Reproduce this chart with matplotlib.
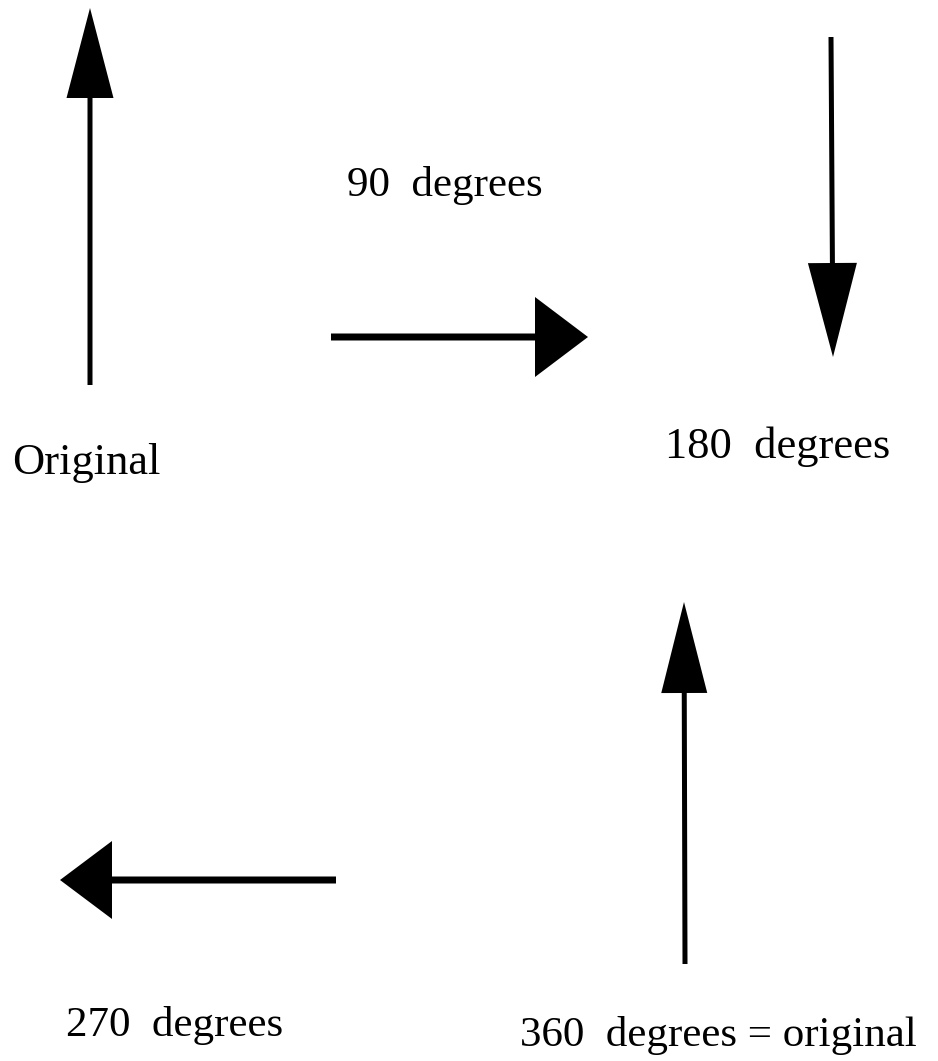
import matplotlib
matplotlib.use("Agg")
import matplotlib.pyplot as plt
from matplotlib.patches import FancyArrow

# canvas in pixel units (y grows downward like the picture)
W, H = 938, 1061

# arrows: tail point, tip point, shaft width, head width, head length
arrow_tails = [(90, 385), (331, 337), (831, 37), (685, 964), (336, 880)]
arrow_tips = [(90, 8), (588, 337), (833, 357), (684, 602), (60, 880)]
shaft_widths = [5, 7, 5, 5, 7]
head_widths = [47, 80, 49, 46, 78]
head_lengths = [90, 53, 94, 91, 52]

# labels
labels = ["Original", "90  degrees", "180  degrees", "270  degrees", "360  degrees = original"]
label_x = [12, 347, 665, 66, 520]
label_y = [474, 196, 458, 1036, 1046]
label_size = [32, 31, 32, 31, 31]

fig = plt.figure(figsize=(W / 100, H / 100), dpi=100)
ax = fig.add_axes([0, 0, 1, 1])
ax.set_xlim(0, W)
ax.set_ylim(H, 0)
ax.axis('off')

for (x0, y0), (x1, y1), sw, hw, hl in zip(arrow_tails, arrow_tips, shaft_widths, head_widths, head_lengths):
    a = FancyArrow(x0, y0, x1 - x0, y1 - y0, width=sw, head_width=hw, head_length=hl,
                   length_includes_head=True, color='black', lw=0)
    ax.add_patch(a)

for t, x, y, s in zip(labels, label_x, label_y, label_size):
    ax.text(x, y, t, ha='left', va='baseline', fontsize=s,
            family=['Liberation Serif', 'DejaVu Serif'], color='black')

fig.savefig("out.png", dpi=100, facecolor='white')
